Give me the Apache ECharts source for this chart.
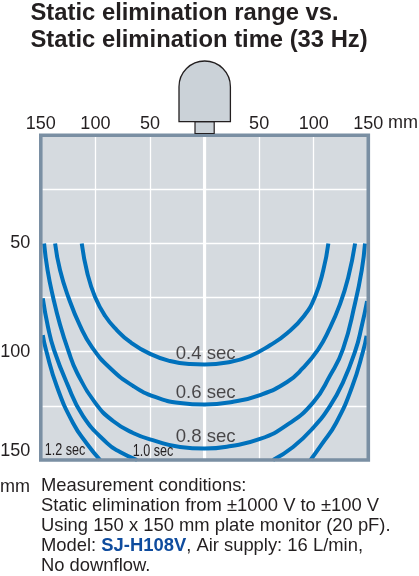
<!DOCTYPE html>
<html><head><meta charset="utf-8">
<style>html,body{margin:0;padding:0;background:#fff}#c{width:419px;height:576px}</style>
<script src="https://cdn.jsdelivr.net/npm/echarts@6/dist/echarts.min.js"></script>
</head><body><div id="c"></div>
<script>
const titleLines = ['Static elimination range vs.', 'Static elimination time (33 Hz)'];
const xTicks = [-150, -100, -50, 50, 100, 150];
const yTickLabels = [50, 100, 150];
const curve04 = [[-112.5,50],[-107.4,63.6],[-100.3,74.7],[-91,83.5],[-80.4,90],[-68.2,95.5],[-49.9,101],[-31.6,104.3],[-13.3,105.7],[0,105.9],[23.4,104.7],[41.7,102],[60,97],[75.6,91.5],[91.1,83.5],[101.2,74.6],[108.8,62.3],[113.4,50]];
const curve06 = [[-136.9,50],[-132.4,62.3],[-124.8,74.7],[-114,88.1],[-103,98],[-86.6,107.5],[-65.5,115.8],[-45.3,120.9],[-22.4,123.7],[0,124.4],[25.2,123.2],[50.8,120],[75.6,114],[90.2,107.5],[104,99],[113.4,90.5],[124.1,78],[131.7,65.5],[137.9,50]];
const curve08 = [[-147,50],[-143.8,62.3],[-138.8,74.7],[-132.4,87.5],[-125,99.2],[-116.8,109.7],[-100.3,123.5],[-83.8,132],[-65.5,137.5],[-45.3,141.2],[-22.4,144],[0,144.7],[24.3,143.5],[50.8,140.3],[75.6,133.8],[99.4,123.5],[115,111],[126.9,98.7],[137.9,77.5],[144,62.3],[147,50]];
const curve10L = [[-148.2,75.3],[-143.4,88.6],[-137.9,99.2],[-126.2,114.4],[-111.3,129.7],[-89.3,142.2],[-77.4,146.3],[-61.8,150]];
const curve10R = [[62.7,150],[81.1,144],[99.4,135.2],[115,125],[126.9,114],[138.3,99.2],[143.8,88.6],[148.9,76.6]];
const curve12L = [[-148.2,92.3],[-145.2,99.2],[-135.1,116.3],[-120.5,132.9],[-107.6,142.6],[-95.7,150]];
const curve12R = [[97.1,150],[107.6,142.6],[120.5,132.9],[135.1,116.3],[145.5,99.2],[148.4,92.6]];
const curveLabels = [[1,100.9,'0.4 sec'],[1,119.2,'0.6 sec'],[1,139.1,'0.8 sec']];
const noteLines = ['Measurement conditions:','Static elimination from \u00b11000 V to \u00b1100 V','Using 150 x 150 mm plate monitor (20 pF).','{n|Model: }{b|SJ-H108V}{n|, Air supply: 16 L/min,}','No downflow.'];

const FONT = '"Liberation Sans", Arial, sans-serif';
const INK = '#231f20', BLUE = '#0071bc', FS = 18;
const curves = [curve04, curve06, curve08, curve10L, curve10R, curve12L, curve12R];
const chart = echarts.init(document.getElementById('c'), null, {renderer:'canvas'});
const txt = (x,y,s,extra,more) => Object.assign({type:'text', x, y, z:20, style:Object.assign({text:s, fill:INK, font:'18.4px '+FONT, textVerticalAlign:'middle'}, extra||{})}, more||{});
chart.setOption({
  animation:false,
  backgroundColor:'#fff',
  grid:{left:40.8, top:135.2, width:327.5, height:324.8, show:true, backgroundColor:'#d5dadf', borderWidth:0, outerBoundsMode:'none'},
  xAxis:{type:'value', position:'top', min:-150, max:150, interval:50,
    axisLine:{show:false}, axisTick:{show:false},
    splitLine:{show:true, lineStyle:{color:'#fff', width:1.3}},
    axisLabel:{show:true, margin:2.5, color:INK, fontFamily:FONT, fontSize:FS, showMinLabel:true, showMaxLabel:true,
      formatter:v=> xTicks.includes(v) ? String(Math.abs(v)) : ''}},
  yAxis:{type:'value', inverse:true, min:0, max:150, interval:25,
    axisLine:{show:false}, axisTick:{show:false},
    splitLine:{show:true, lineStyle:{color:'#fff', width:1.3}},
    axisLabel:{show:true, margin:10.5, padding:[3,0,0,0], color:INK, fontFamily:FONT, fontSize:FS, showMaxLabel:true, verticalAlignMaxLabel:'bottom',
      formatter:v=> yTickLabels.includes(v) ? String(v) : ''}},
  series:[
    {type:'line', data:[[0,0],[0,150]], symbol:'none', silent:true, lineStyle:{color:'#fff', width:3.2}, z:1},
    ...curves.map(d=>({type:'line', data:d, symbol:'none', smooth:0.5, clip:true, lineStyle:{color:BLUE, width:4}, z:2})),
    {type:'scatter', data:curveLabels, symbolSize:0, z:3, label:{show:true, position:'inside', formatter:p=>p.value[2], color:INK, fontFamily:FONT, fontSize:18.6}}
  ],
  graphic:[
    txt(30.5,13.5,titleLines[0],{font:'bold 23.8px '+FONT}),
    txt(30.5,40,titleLines[1],{font:'bold 23.8px '+FONT}),
    {type:'rect', z:15, shape:{x:40.8,y:135.2,width:327.5,height:324.8}, style:{fill:'none', stroke:'#7a8fa3', lineWidth:3.6}},
    {type:'rect', z:19, shape:{x:179,y:61,width:51.4,height:60.7,r:[25.7,25.7,0,0]}, style:{fill:'#cbd2d8', stroke:'#231f20', lineWidth:1.3}},
    {type:'rect', z:18, shape:{x:195,y:121.7,width:19.2,height:11.8}, style:{fill:'#cbd2d8', stroke:'#231f20', lineWidth:1.2}},
    txt(388,123.5,'mm',{font:FS+'px '+FONT}),
    txt(0,487.5,'mm',{font:FS+'px '+FONT}),
    txt(65,450,'1.2 sec',{font:'17px '+FONT, textAlign:'center'},{scaleX:0.74}),
    txt(153,451,'1.0 sec',{font:'17px '+FONT, textAlign:'center'},{scaleX:0.74}),
    txt(41,486,noteLines[0]),
    txt(41,506,noteLines[1]),
    txt(41,526,noteLines[2]),
    {type:'text', x:41, y:546, z:20, style:{text:noteLines[3], textVerticalAlign:'middle', font:'18.4px '+FONT, fill:INK,
      rich:{n:{fontFamily:FONT,fontSize:18.4,fill:INK},b:{fontFamily:FONT,fontSize:18.4,fontWeight:'bold',fill:'#0f4c9e'}}}},
    txt(41,566,noteLines[4])
  ]
});
</script></body></html>
